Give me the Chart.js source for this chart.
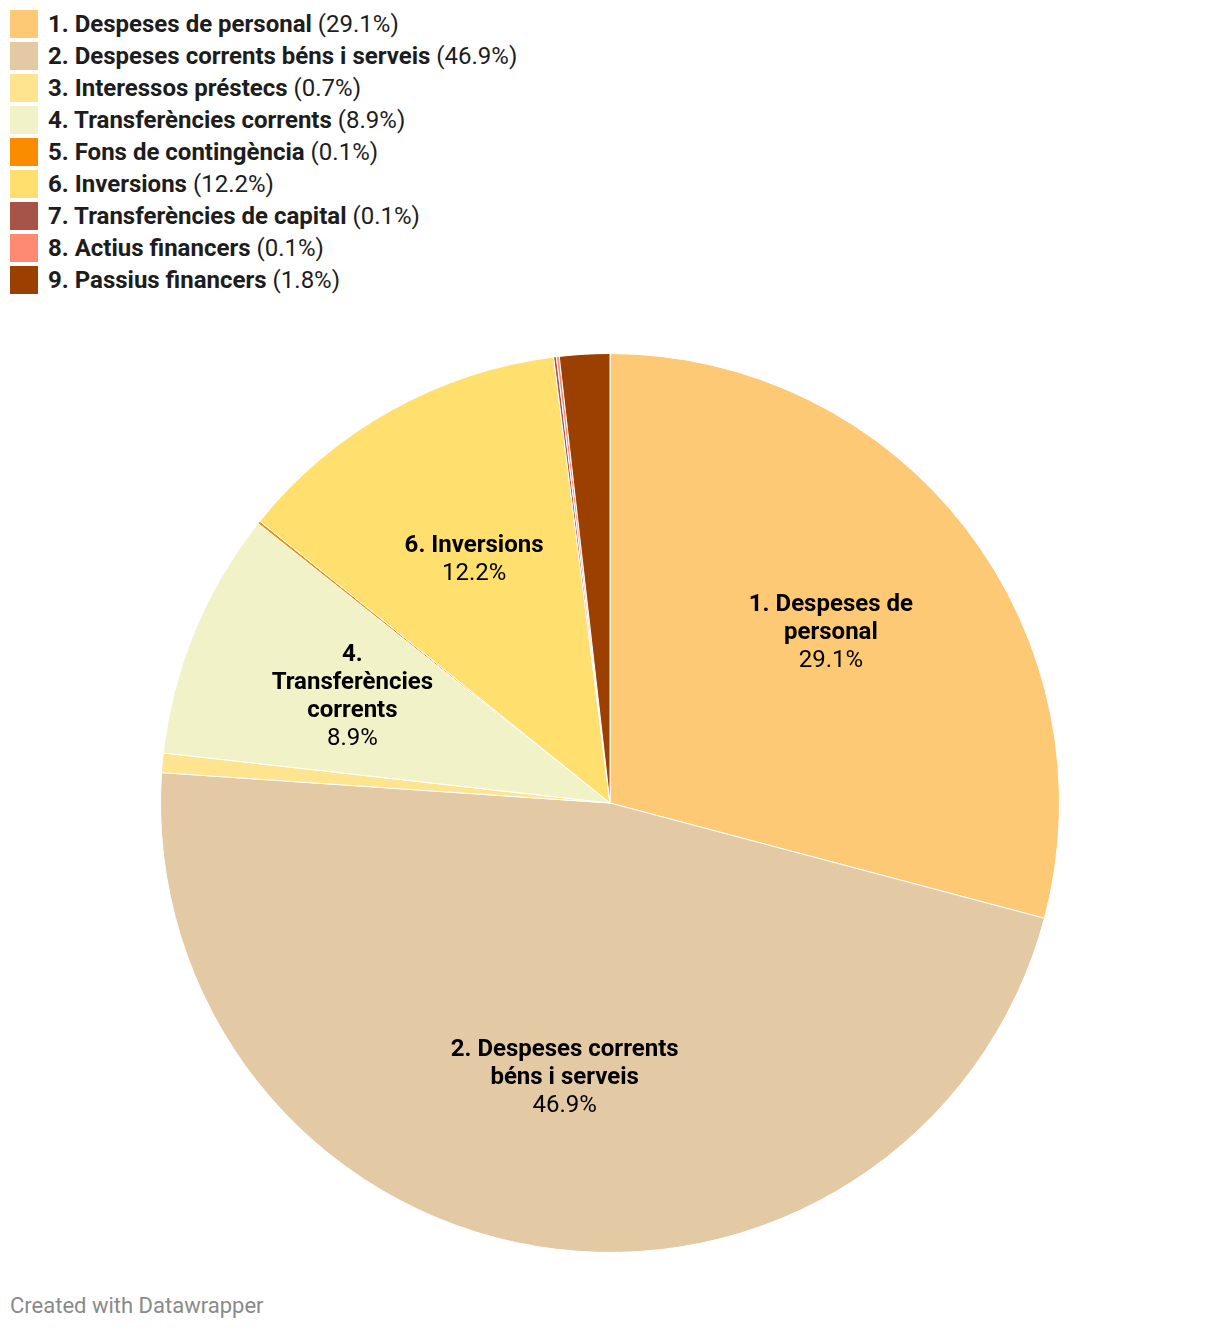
<!DOCTYPE html>
<html>
<head>
<meta charset="utf-8">
<script src="https://cdn.jsdelivr.net/npm/chart.js@4"></script>
<style>
  body { margin: 0; background: #fff; font-family: Roboto, sans-serif; width: 1220px; height: 1330px; position: relative; overflow: hidden; }
  #legend { position: absolute; left: 10px; top: 8px; }
  .row { display: flex; align-items: center; height: 32px; font-size: 24px; color: #1d1d1d; white-space: nowrap; }
  .sw { width: 28px; height: 28px; margin-right: 10px; flex: none; }
  .row b { font-weight: 700; margin-right: 6px; }
  #wrap { position: absolute; left: 0; top: 353px; width: 1220px; height: 900px; }
  #footer { position: absolute; left: 10px; top: 1293px; font-size: 22px; color: #8a8a8a; }
</style>
</head>
<body>
<div id="legend"></div>
<div id="wrap"><canvas id="pie"></canvas></div>
<div id="footer">Created with Datawrapper</div>
<script>
// categories and shares (%) as printed in the chart
const categories = [
  '1. Despeses de personal',
  '2. Despeses corrents béns i serveis',
  '3. Interessos préstecs',
  '4. Transferències corrents',
  '5. Fons de contingència',
  '6. Inversions',
  '7. Transferències de capital',
  '8. Actius financers',
  '9. Passius financers'
];
const shares = [29.1, 46.9, 0.7, 8.9, 0.1, 12.2, 0.1, 0.1, 1.8];
const colors = ['#fec974', '#e4c9a5', '#fee48f', '#f2f2c8', '#fa8c00', '#ffe06e', '#a65447', '#ff8a72', '#9b4000'];
// wrapped labels drawn inside the big slices (null = no label)
const sliceLabels = [
  ['1. Despeses de', 'personal'],
  ['2. Despeses corrents', 'béns i serveis'],
  null,
  ['4.', 'Transferències', 'corrents'],
  null,
  ['6. Inversions'],
  null, null, null
];

// html legend
const legend = document.getElementById('legend');
categories.forEach(function (c, i) {
  const row = document.createElement('div');
  row.className = 'row';
  row.innerHTML = '<div class="sw" style="background:' + colors[i] + '"></div><b>' + c + '</b>(' + shares[i].toFixed(1) + '%)';
  legend.appendChild(row);
});

// labels in the middle of each slice
const sliceText = {
  id: 'sliceText',
  afterDatasetsDraw(chart) {
    const ctx = chart.ctx;
    const meta = chart.getDatasetMeta(0);
    ctx.save();
    ctx.textAlign = 'center';
    ctx.textBaseline = 'middle';
    ctx.fillStyle = '#000';
    meta.data.forEach(function (arc, i) {
      const lines = sliceLabels[i];
      if (!lines) return;
      const mid = (arc.startAngle + arc.endAngle) / 2;
      const r = arc.outerRadius * 0.62;
      const x = arc.x + Math.cos(mid) * r;
      const y = arc.y + Math.sin(mid) * r;
      const all = lines.length + 1;
      const lh = 28;
      let y0 = y - (all - 1) * lh / 2;
      ctx.font = 'bold 24px Roboto';
      lines.forEach(function (l, k) { ctx.fillText(l, x, y0 + k * lh); });
      ctx.font = '24px Roboto';
      ctx.fillText(shares[i].toFixed(1) + '%', x, y0 + lines.length * lh);
    });
    ctx.restore();
  }
};

new Chart(document.getElementById('pie'), {
  type: 'pie',
  data: {
    labels: categories,
    datasets: [{
      data: shares,
      backgroundColor: colors,
      borderColor: '#ffffff',
      borderWidth: 1,
      hoverOffset: 0
    }]
  },
  options: {
    responsive: true,
    maintainAspectRatio: false,
    animation: false,
    layout: { padding: 0 },
    plugins: { legend: { display: false }, tooltip: { enabled: false } }
  },
  plugins: [sliceText]
});
</script>
</body>
</html>
